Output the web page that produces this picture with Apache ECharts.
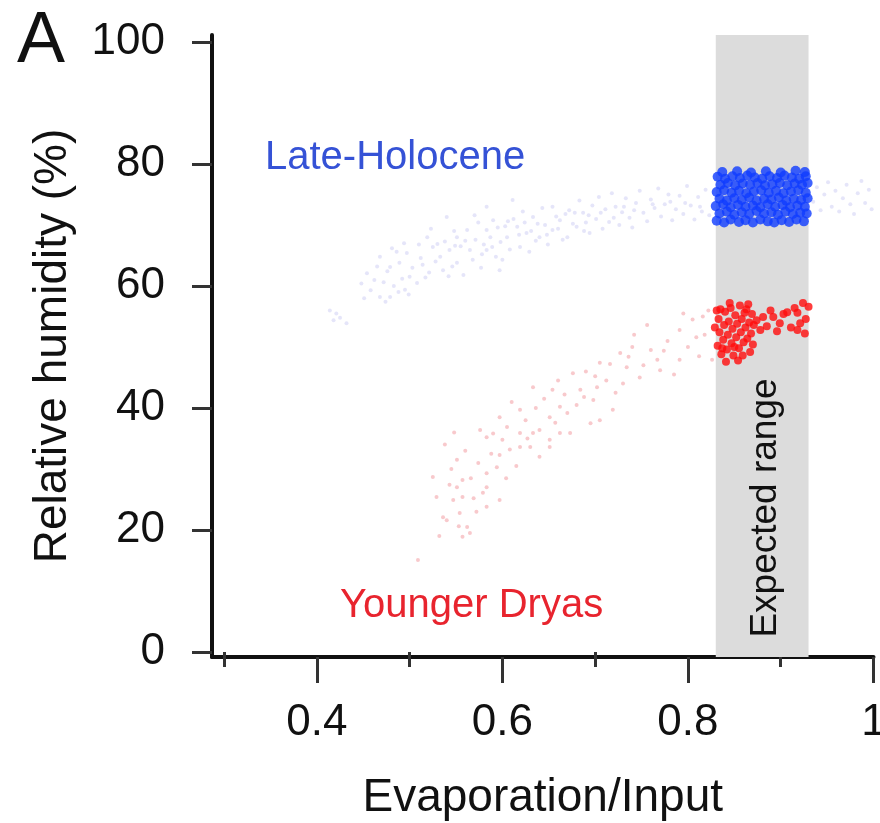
<!DOCTYPE html>
<html><head><meta charset="utf-8">
<script src="https://cdn.jsdelivr.net/npm/echarts@6/dist/echarts.min.js"></script>
<style>html,body{margin:0;padding:0;background:#fff;overflow:hidden}#c{width:880px;height:823px}</style>
</head><body><div id="c"></div>
<script>
const xTicks = [0.4, 0.6, 0.8, 1];
const xMinorTicks = [0.3, 0.5, 0.7, 0.9];
const yTicks = [0, 20, 40, 60, 80, 100];
const expectedRange = [0.83, 0.93];

const lateHoloceneModel = [
[0.414,56.0],[0.425,54.8],[0.432,53.9],[0.421,55.5],[0.418,54.4],
[0.448,60.4],[0.454,62.1],[0.458,59.3],[0.462,61.0],[0.468,58.2],[0.468,64.8],[0.472,60.6],[0.476,62.4],[0.479,58.2],[0.479,63.1],[0.483,60.0],[0.486,65.6],[0.489,63.8],[0.492,61.2],[0.495,59.4],[0.497,65.4],[0.500,61.5],[0.503,63.0],
[0.451,58.0],[0.465,63.2],[0.474,57.4],[0.481,66.2],[0.488,59.0],[0.494,67.0],[0.499,58.6],
[0.508,60.5],[0.510,66.8],[0.514,63.5],[0.519,68.0],[0.521,62.2],[0.525,66.4],[0.528,64.0],[0.533,64.8],[0.536,62.6],[0.538,67.3],[0.540,71.3],[0.543,65.9],[0.546,63.2],[0.548,69.0],[0.551,63.8],[0.551,68.0],
[0.512,64.6],[0.517,61.4],[0.523,69.4],[0.530,66.9],[0.542,61.6],[0.549,66.6],
[0.555,66.5],[0.558,61.8],[0.562,69.2],[0.565,65.9],[0.568,64.3],[0.571,67.6],[0.574,70.4],[0.577,63.0],[0.580,66.8],[0.583,69.2],[0.583,65.9],[0.583,73.0],[0.587,68.0],[0.590,70.8],[0.593,64.8],[0.597,62.6],[0.598,67.2],
[0.560,67.4],[0.570,71.6],[0.578,65.2],[0.589,66.4],[0.595,69.6],
[0.600,64.3],[0.603,69.8],[0.605,68.0],[0.608,66.0],[0.611,74.1],[0.612,71.0],[0.616,69.7],[0.619,66.4],[0.622,72.2],[0.626,68.7],[0.629,65.6],[0.633,71.3],[0.636,67.4],[0.640,68.0],[0.643,72.8],[0.646,70.0],[0.649,66.8],
[0.606,70.6],[0.618,68.4],[0.624,70.4],[0.631,69.0],[0.638,70.2],[0.648,68.4],
[0.654,69.2],[0.654,73.0],[0.658,71.4],[0.662,70.8],[0.665,67.6],[0.670,68.0],[0.672,72.4],[0.676,70.2],[0.680,69.7],[0.683,74.0],[0.687,72.0],[0.690,70.4],[0.694,68.7],[0.697,73.2],
[0.660,69.4],[0.668,71.8],[0.678,72.0],[0.688,69.0],[0.693,71.6],
[0.701,71.0],[0.704,74.6],[0.708,69.4],[0.711,72.6],[0.715,70.5],[0.718,75.2],[0.722,73.0],[0.726,70.0],[0.729,72.1],[0.733,74.4],[0.737,71.2],[0.740,69.6],[0.744,73.6],[0.748,75.6],
[0.706,72.0],[0.720,71.2],[0.731,73.0],[0.742,72.4],
[0.752,72.0],[0.756,70.6],[0.760,74.2],[0.764,72.8],[0.768,76.0],[0.771,71.4],[0.775,73.4],[0.779,75.0],[0.783,70.8],[0.787,72.6],[0.791,74.8],[0.795,71.8],[0.799,76.4],[0.803,73.2],[0.807,70.9],[0.811,74.6],[0.815,72.2],[0.819,75.8],[0.823,71.6],
[0.762,73.4],[0.781,73.8],[0.797,73.6],[0.813,73.0],
[0.935,73.8],[0.939,76.2],[0.943,72.4],[0.947,75.0],[0.951,77.0],[0.955,73.0],[0.959,75.6],[0.963,72.2],[0.967,74.4],[0.971,76.6],[0.975,73.4],[0.979,71.8],[0.983,75.2],[0.987,77.2],[0.991,73.6],[0.995,75.8],[0.998,72.6]
];

const lateHoloceneExpected = [
[0.831,70.7],[0.839,70.4],[0.846,70.9],[0.855,70.5],[0.862,70.8],[0.870,70.4],[0.878,70.9],[0.886,70.6],[0.893,70.4],[0.901,70.8],[0.909,70.5],[0.917,70.9],[0.925,70.6],
[0.834,71.9],[0.842,72.2],[0.850,71.7],[0.858,72.1],[0.866,71.8],[0.874,72.3],[0.882,71.9],[0.890,72.1],[0.897,71.7],[0.905,72.2],[0.913,71.8],[0.921,72.0],[0.928,71.9],
[0.830,73.1],[0.838,73.4],[0.846,72.9],[0.854,73.3],[0.862,73.0],[0.870,73.2],[0.878,72.9],[0.886,73.4],[0.894,73.0],[0.902,73.3],[0.910,72.9],[0.918,73.2],[0.926,73.0],
[0.834,74.3],[0.842,74.0],[0.850,74.4],[0.858,74.1],[0.866,74.5],[0.874,74.0],[0.882,74.3],[0.890,74.2],[0.898,74.5],[0.906,74.0],[0.914,74.3],[0.922,74.1],[0.929,74.4],
[0.831,75.4],[0.839,75.7],[0.847,75.3],[0.855,75.6],[0.863,75.2],[0.871,75.5],[0.879,75.7],[0.887,75.3],[0.895,75.6],[0.903,75.2],[0.911,75.5],[0.919,75.7],[0.927,75.3],
[0.835,76.6],[0.843,76.9],[0.851,76.5],[0.859,76.8],[0.867,76.6],[0.875,76.9],[0.883,76.5],[0.891,76.7],[0.899,76.9],[0.907,76.5],[0.915,76.8],[0.923,76.6],[0.929,76.9],
[0.832,77.9],[0.840,77.6],[0.848,78.0],[0.856,77.7],[0.864,78.1],[0.872,77.8],[0.880,77.6],[0.888,78.0],[0.896,77.7],[0.904,78.1],[0.912,77.8],[0.920,77.6],[0.927,78.0],
[0.837,78.7],[0.853,78.8],[0.868,78.6],[0.884,78.8],[0.900,78.6],[0.916,78.9],[0.926,78.7]
];

const youngerDryasModel = [
[0.509,15.1],[0.525,28.7],[0.529,25.4],[0.536,22.1],[0.540,21.6],[0.547,24.9],[0.551,31.5],[0.551,27.0],[0.554,22.8],[0.557,28.2],[0.557,25.4],[0.557,18.9],[0.562,20.5],[0.565,19.5],[0.572,23.0],[0.576,36.4],[0.579,26.1],[0.583,35.2],[0.583,29.3],[0.583,27.0],[0.583,23.8],[0.594,30.3],[0.597,38.5],[0.597,32.3],[0.597,24.9],[0.600,34.8],[0.605,36.9],[0.619,39.7],[0.619,35.9],[0.619,33.6],[0.630,33.6],[0.633,43.4],[0.633,35.9],[0.640,36.4],[0.651,38.5],[0.651,34.8],[0.651,33.6],[0.654,43.0],[0.662,40.2],[0.662,35.9],[0.670,39.2],[0.673,35.9],[0.676,45.7],[0.684,43.0],[0.698,41.3],[0.702,43.4],[0.705,47.4],[0.705,38.0],[0.719,39.7],[0.727,49.0],[0.734,46.7],[0.748,45.0],[0.756,53.6],[0.767,47.9],[0.770,46.2],[0.791,52.8],[0.791,47.9],[0.826,47.9],
[0.545,30.0],[0.560,33.0],[0.566,28.5],[0.588,32.5],[0.610,41.0],[0.615,30.5],[0.625,38.0],[0.645,41.5],[0.660,44.5],[0.680,40.5],[0.690,46.0],[0.712,44.5],[0.722,42.5],[0.740,50.0],[0.760,49.5],[0.778,51.0],[0.785,45.5],[0.800,50.0],[0.805,54.5],[0.812,48.5],[0.818,52.0],[0.822,56.0],[0.795,55.5],[0.742,52.0],[0.730,44.0],[0.538,34.0],[0.532,19.0],[0.548,36.0],[0.604,28.5],[0.640,32.0],[0.695,37.5],
[0.543,27.4],[0.553,20.6],[0.569,25.2],[0.574,31.0],[0.590,35.8],[0.608,33.2],[0.627,35.0],[0.636,40.0],[0.657,37.6],[0.667,42.2],[0.688,41.8],[0.700,45.2],[0.716,47.2],[0.736,48.4],[0.752,47.0],[0.774,49.4],[0.809,51.6],[0.816,55.0]
];

const youngerDryasExpected = [
[0.832,50.2],[0.834,52.4],[0.833,54.6],[0.836,48.8],[0.838,51.2],[0.839,53.6],[0.840,55.8],[0.842,49.6],[0.843,52.0],[0.844,54.2],[0.846,56.4],[0.847,50.6],[0.848,53.0],[0.849,48.6],[0.851,55.2],[0.852,51.6],[0.853,53.8],[0.855,49.8],[0.856,56.8],[0.857,52.4],[0.858,54.6],[0.860,50.8],[0.861,55.6],[0.862,53.2],[0.864,51.4],[0.865,57.0],[0.866,54.0],[0.868,52.2],[0.869,55.4],[0.870,50.4],[0.871,53.6],[0.835,56.2],[0.845,57.2],[0.850,50.0],[0.854,47.8],[0.841,47.6],[0.837,49.8],[0.859,48.6],[0.863,56.2],[0.867,49.2],[0.829,53.2],[0.831,56.0],
[0.874,54.4],[0.878,52.8],[0.881,54.9],[0.885,53.4],[0.889,56.0],[0.892,54.9],[0.896,52.6],[0.899,53.9],[0.903,55.4],[0.907,55.7],[0.911,53.2],[0.915,56.4],[0.918,55.6],[0.918,52.8],[0.921,53.9],[0.924,57.2],[0.927,54.6],[0.930,56.6],[0.926,52.2]
];

const FONT = "'Liberation Sans', Arial, Helvetica, sans-serif";
const chart = echarts.init(document.getElementById('c'), null, {renderer: 'canvas'});
const X_MIN = 0.287, X_MAX = 1, Y_MIN = -0.82, Y_MAX = 101.15;

chart.setOption({
  backgroundColor: '#fff',
  animation: false,
  grid: {left: 212, right: 6.5, top: 35, bottom: 166, containLabel: false, outerBoundsMode: 'none'},
  xAxis: [{
    type: 'value', min: X_MIN, max: X_MAX, position: 'bottom',
    name: 'Evaporation/Input', nameLocation: 'middle', nameGap: 118,
    nameTextStyle: {fontFamily: FONT, fontSize: 46, color: '#111'},
    axisLine: {show: true, onZero: false, lineStyle: {color: '#111', width: 4}},
    axisTick: {show: true, inside: false, length: 26, lineStyle: {color: '#333', width: 3}, customValues: xTicks},
    axisLabel: {show: true, customValues: xTicks, margin: 44, fontFamily: FONT, fontSize: 44, color: '#111',
      formatter: v => (Math.abs(v - 1) < 1e-9 ? '1' : v.toFixed(1))},
    splitLine: {show: false}
  }, {
    type: 'value', min: X_MIN, max: X_MAX, position: 'bottom',
    axisLine: {show: false},
    axisTick: {show: true, length: 15, lineStyle: {color: '#333', width: 3}, customValues: xMinorTicks},
    axisLabel: {show: false},
    splitLine: {show: false}
  }],
  yAxis: {
    type: 'value', min: Y_MIN, max: Y_MAX,
    name: 'Relative humidity (%)', nameLocation: 'middle', nameGap: 136, nameRotate: 90,
    nameTextStyle: {fontFamily: FONT, fontSize: 46, color: '#111'},
    axisLine: {show: true, onZero: false, lineStyle: {color: '#111', width: 4}},
    axisTick: {show: true, length: 20, lineStyle: {color: '#333', width: 3}, customValues: yTicks},
    axisLabel: {show: true, customValues: yTicks, margin: 47, fontFamily: FONT, fontSize: 44, color: '#111'},
    splitLine: {show: false}
  },
  series: [
    {
      type: 'scatter', name: 'band', data: [], z: 1, silent: true,
      markArea: {silent: true, itemStyle: {color: '#dcdcdc'},
        data: [[{xAxis: expectedRange[0]}, {xAxis: expectedRange[1]}]]}
    },
    {type: 'scatter', name: 'Late-Holocene model', data: lateHoloceneModel, symbolSize: 4, z: 2,
      itemStyle: {color: 'rgba(110,110,220,0.22)'}},
    {type: 'scatter', name: 'Younger Dryas model', data: youngerDryasModel, symbolSize: 4, z: 2,
      itemStyle: {color: 'rgba(230,50,60,0.33)'}},
    {type: 'scatter', name: 'Late-Holocene expected', data: lateHoloceneExpected, symbolSize: 10, z: 3,
      itemStyle: {color: '#0f3cff'}},
    {type: 'scatter', name: 'Younger Dryas expected', data: youngerDryasExpected, symbolSize: 8, z: 3,
      itemStyle: {color: '#ff0d0d'}}
  ],
  graphic: [
    {type: 'text', x: 41, y: 42, z: 10, style: {text: 'A', fontFamily: FONT, fontSize: 72, fill: '#111', align: 'center', verticalAlign: 'middle', textAlign: 'center', textVerticalAlign: 'middle'}},
    {type: 'text', x: 265, y: 158, z: 10, style: {text: 'Late-Holocene', fontFamily: FONT, fontSize: 40, fill: '#3552d6', align: 'left', verticalAlign: 'middle', textAlign: 'left', textVerticalAlign: 'middle'}},
    {type: 'text', x: 340, y: 606, z: 10, style: {text: 'Younger Dryas', fontFamily: FONT, fontSize: 40, fill: '#e8242e', align: 'left', verticalAlign: 'middle', textAlign: 'left', textVerticalAlign: 'middle'}},
    {type: 'text', x: 766, y: 508, z: 10, rotation: Math.PI / 2, style: {text: 'Expected range', fontFamily: FONT, fontSize: 37, fill: '#111', align: 'center', verticalAlign: 'middle', textAlign: 'center', textVerticalAlign: 'middle'}}
  ]
});
</script>
</body></html>
